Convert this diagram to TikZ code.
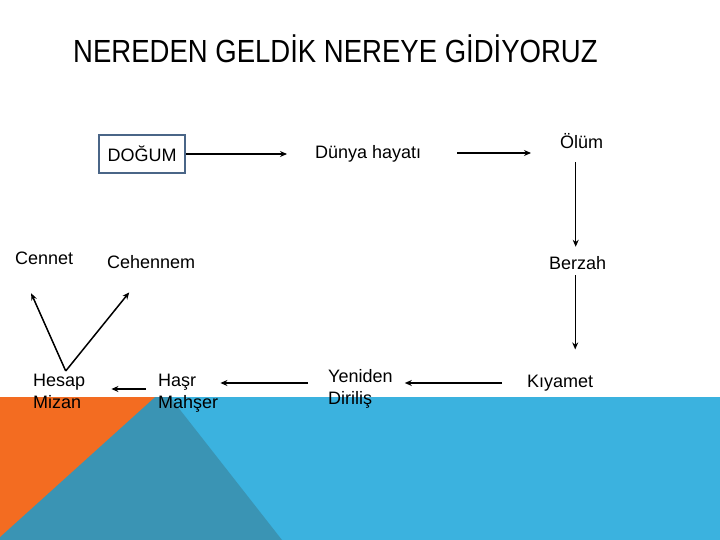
\documentclass[tikz,border=0pt]{standalone}
\usepackage{fontspec}
\setmainfont{Liberation Sans}
\usetikzlibrary{arrows.meta}
\definecolor{orng}{HTML}{F36C21}
\definecolor{dteal}{HTML}{3A94B4}
\definecolor{lblue}{HTML}{3BB2DF}
\definecolor{boxc}{HTML}{4A6587}
\tikzset{
  lbl/.style={inner sep=0pt, font=\fontsize{18}{22}\selectfont, align=left},
  arr/.style={line width=1.5pt, -{Stealth[length=7pt,width=6pt]}},
  varr/.style={line width=1pt, -{Stealth[length=7pt,width=6pt]}},
}
\begin{document}
\begin{tikzpicture}[x=1pt,y=-1pt]
\useasboundingbox (0,0) rectangle (720,540);
% background
\fill[lblue] (0,397) rectangle (720,540);
\fill[dteal] (0,397) -- (170,397) -- (282,540) -- (0,540) -- cycle;
\fill[orng] (0,397) -- (155,397) -- (0,537) -- cycle;
% title
\node[inner sep=0pt, anchor=base west, font=\fontsize{32}{36}\selectfont\addfontfeature{FakeStretch=0.86}] (title) at (73,63) {NEREDEN GELDİK NEREYE GİDİYORUZ};
% nodes
\node[draw=boxc, line width=2.5pt, minimum width=86pt, minimum height=38pt, inner sep=0pt, font=\fontsize{18}{22}\selectfont] (dogum) at (142,154) {DOĞUM};
\node[lbl, anchor=base west] (dunya) at (315,159) {Dünya hayatı};
\node[lbl, anchor=base west] (olum) at (560,149) {Ölüm};
\node[lbl, anchor=base west] (berzah) at (549,269) {Berzah};
\node[lbl, anchor=base west] (kiyamet) at (527,387) {Kıyamet};
\node[lbl, anchor=north west] (yeniden) at (328,369) {Yeniden\\Diriliş};
\node[lbl, anchor=north west] (hasr) at (158,374) {Haşr\\Mahşer};
\node[lbl, anchor=north west] (hesap) at (33,374) {Hesap\\Mizan};
\node[lbl, anchor=base west] (cennet) at (15,264) {Cennet};
\node[lbl, anchor=base west] (cehennem) at (107,268) {Cehennem};
% connectors
\draw[arr, shorten >=28pt] (dogum.east) -- (dogum.east -| dunya.west);
\draw[arr, shorten <=36pt, shorten >=29pt] ([yshift=6pt]dunya.base east) -- ([yshift=6pt]dunya.base east -| olum.west);
\draw[varr, shorten <=13pt, shorten >=9pt] ([xshift=-6pt]olum.south) -- ([xshift=-6pt]olum.south |- berzah.north);
\draw[varr, shorten <=6pt, shorten >=25pt] ([xshift=-2.5pt]berzah.south) -- ([xshift=-2.5pt]berzah.south |- kiyamet.north);
\draw[arr, shorten <=25pt, shorten >=12pt] ([yshift=4pt]kiyamet.base west) -- ([yshift=4pt]kiyamet.base west -| yeniden.east);
\draw[arr, shorten <=20pt, shorten >=2pt] ([yshift=-14pt]yeniden.north west) -- ([yshift=-14pt]yeniden.north west -| hasr.east);
\draw[arr, shorten <=12pt, shorten >=26pt] ([yshift=-15pt]hasr.north west) -- ([yshift=-15pt]hasr.north west -| hesap.east);
\draw[arr] ([xshift=6.5pt,yshift=3pt]hesap.north) -- ([xshift=-13pt,yshift=-29pt]cennet.south);
\draw[arr] ([xshift=6.5pt,yshift=3pt]hesap.north) -- ([xshift=-22pt,yshift=-24pt]cehennem.south);
\end{tikzpicture}
\end{document}
